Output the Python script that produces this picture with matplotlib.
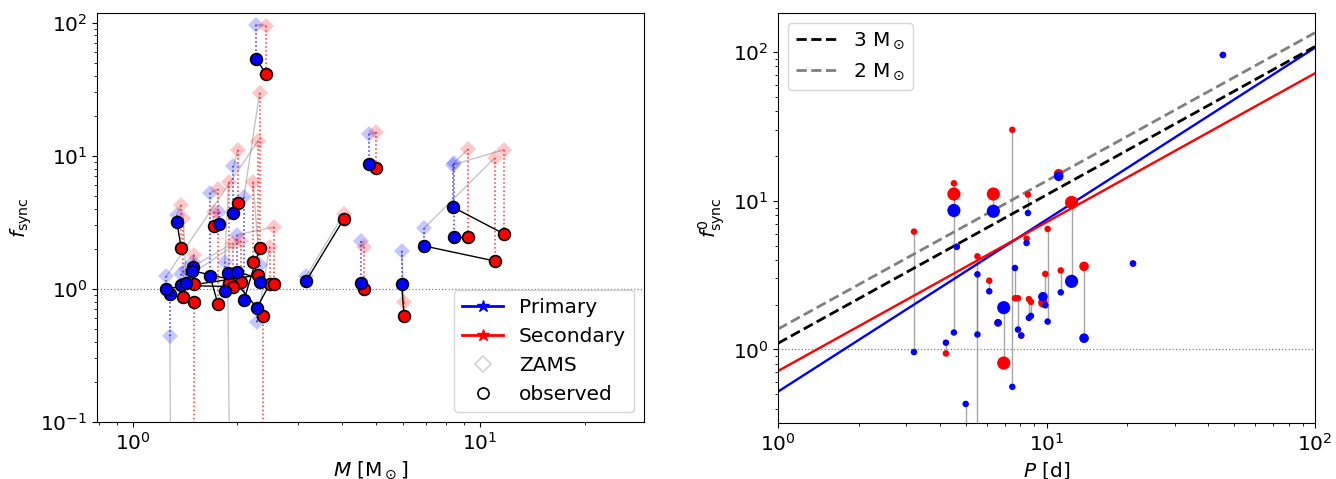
import numpy as np
import matplotlib
matplotlib.use('Agg')
import matplotlib.pyplot as plt
from matplotlib.lines import Line2D

plt.rcParams['font.size'] = 14.5

# ---------------- Left panel data: binaries (primary / secondary) ----------------
m1 = [3.16, 4.80, 4.54, 5.94, 6.90, 8.37, 8.40, 2.26, 1.34, 1.95, 1.77, 1.67,
      1.88, 1.28, 1.25, 2.09, 2.32, 2.28, 1.84, 2.00, 1.49, 1.48, 1.38, 1.42]
m2 = [4.05, 5.02, 4.64, 6.04, 11.0, 11.7, 9.22, 2.42, 1.38, 2.01, 1.71, 1.76,
      2.38, 1.50, 2.30, 2.32, 2.22, 2.48, 1.89, 2.56, 1.50, 2.05, 1.94, 1.40]
f1_obs = [1.15, 8.7, 1.11, 1.08, 2.10, 4.09, 2.45, 53.6, 3.2, 3.7, 3.08, 1.25,
          1.31, 0.91, 1.00, 0.82, 1.13, 0.72, 0.97, 1.35, 1.47, 1.37, 1.06, 1.10]
f2_obs = [3.34, 8.03, 1.00, 0.63, 1.62, 2.59, 2.45, 41.4, 2.02, 4.4, 2.98, 0.77,
          0.63, 0.80, 1.27, 2.01, 1.58, 1.09, 1.10, 1.09, 1.09, 1.13, 1.04, 0.875]
f1_zams = [1.24, 14.6, 2.27, 1.91, 2.86, 8.56, 8.8, 96.6, 3.6, 8.3, 3.8, 5.25,
           1.05, 0.44, 1.24, 4.9, 1.51, 0.56, 1.6, 2.55, 1.6, 1.3, 1.3, 1.4]
f2_zams = [3.66, 15.0, 2.06, 0.80, 9.6, 11.1, 11.2, 95.0, 4.28, 11.1, 3.8, 5.6,
           1e-30, 1e-30, 13.0, 29.6, 6.4, 2.08, 6.3, 2.91, 1.8, 2.3, 2.2, 3.4]

# ---------------- Right panel data ----------------
P_sys = [3.21, 4.22, 4.52, 4.52, 4.63, 5.00, 5.53, 5.53, 6.34, 6.12, 6.60, 6.93,
         7.46, 7.63, 7.83, 8.05, 8.53, 8.43, 8.60, 8.75, 9.70, 9.90, 10.1, 11.1,
         11.3, 12.4, 13.8, 21.0, 45.4]
f1_0 = [0.96, 1.11, 8.6, 1.3, 4.9, 0.43, 1.26, 3.2, 8.5, 2.46, 1.51, 1.91,
        0.56, 3.53, 1.36, 1.24, 8.27, 5.2, 1.63, 1.68, 2.26, 1.98, 1.54, 14.6,
        2.42, 2.87, 1.19, 3.78, 95.6]
f2_0 = [6.2, 0.94, 11.1, 13.1, 4.9, 1e-3, 4.23, 1e-3, 11.1, 2.9, 1.51, 0.81,
        30.0, 2.21, 2.21, 1.24, 11.0, 5.56, 2.18, 2.09, 2.06, 3.22, 6.46, 15.2,
        3.4, 9.74, 3.62, 3.78, 95.6]
size_sys = [22, 22, 90, 22, 22, 22, 22, 22, 90, 22, 30, 90,
            22, 22, 22, 22, 22, 22, 22, 22, 48, 22, 22, 48,
            22, 90, 48, 22, 22]

line_P = [1.0, 100.0]
fit_primary = [0.52, 107.0]
fit_secondary = [0.716, 72.0]
model_3msun = [1.10, 109.0]
model_2msun = [1.37, 135.0]

fig = plt.figure(figsize=(13.36, 4.79), dpi=100)
W, H = 1336.0, 479.0
ax1 = fig.add_axes([97 / W, 1 - 422 / H, (644 - 97) / W, (422 - 13) / H])
ax2 = fig.add_axes([778 / W, 1 - 423 / H, (1315 - 778) / W, (423 - 12.7) / H])

# ---------- left panel ----------
ax1.set_xscale('log')
ax1.set_yscale('log')
for i in range(len(m1)):
    ax1.plot([m1[i], m2[i]], [f1_zams[i], f2_zams[i]], color='gray', lw=1, alpha=0.45, zorder=1)
    ax1.plot([m1[i], m1[i]], [f1_zams[i], f1_obs[i]], color='blue', ls=':', lw=1.1, alpha=0.8, zorder=2)
    ax1.plot([m2[i], m2[i]], [f2_zams[i], f2_obs[i]], color='red', ls=':', lw=1.1, alpha=0.8, zorder=2)
    ax1.plot([m1[i], m2[i]], [f1_obs[i], f2_obs[i]], color='black', lw=1, zorder=4)
ax1.plot(m1, f1_zams, ls='none', marker='D', ms=8, color='blue', alpha=0.22, mew=0, zorder=3)
ax1.plot(m2, f2_zams, ls='none', marker='D', ms=8, color='red', alpha=0.22, mew=0, zorder=3)
ax1.plot(m2, f2_obs, ls='none', marker='o', ms=8.5, mfc='red', mec='black', mew=1.2, zorder=5)
ax1.plot(m1, f1_obs, ls='none', marker='o', ms=8.5, mfc='blue', mec='black', mew=1.2, zorder=5)
ax1.axhline(1.0, color='gray', ls=':', lw=0.9, zorder=0)
ax1.set_xlim(0.79, 29.6)
ax1.set_ylim(0.1, 118)
ax1.set_xlabel(r'$M$ [M$_\odot$]')
ax1.set_ylabel(r'$f_{\rm sync}$')
handles = [
    Line2D([], [], color='blue', lw=2, marker='*', ms=9, label='Primary'),
    Line2D([], [], color='red', lw=2, marker='*', ms=9, label='Secondary'),
    Line2D([], [], ls='none', marker='D', ms=8, mfc='white', mec='lightgray', mew=1.2, label='ZAMS'),
    Line2D([], [], ls='none', marker='o', ms=8, mfc='white', mec='black', mew=1.2, label='observed'),
]
ax1.legend(handles=handles, loc='lower right', fontsize=14.5)

# ---------- right panel ----------
ax2.set_xscale('log')
ax2.set_yscale('log')
for i in range(len(P_sys)):
    ax2.plot([P_sys[i], P_sys[i]], [f1_0[i], f2_0[i]], color='gray', lw=1, alpha=0.7, zorder=1)
ax2.scatter(P_sys, f2_0, s=size_sys, color='red', zorder=3, lw=0)
ax2.scatter(P_sys, f1_0, s=size_sys, color='blue', zorder=4, lw=0)
ax2.plot(line_P, fit_primary, color='blue', lw=1.7, zorder=2)
ax2.plot(line_P, fit_secondary, color='red', lw=1.7, zorder=2)
ax2.plot(line_P, model_3msun, color='black', ls='--', lw=2, zorder=2, label=r'3 M$_\odot$')
ax2.plot(line_P, model_2msun, color='gray', ls='--', lw=2, zorder=2, label=r'2 M$_\odot$')
ax2.axhline(1.0, color='gray', ls=':', lw=0.9, zorder=0)
ax2.set_xlim(1, 100)
ax2.set_ylim(0.32, 184)
ax2.set_xlabel(r'$P$ [d]')
ax2.set_ylabel(r'$f^0_{\rm sync}$')
ax2.legend(loc='upper left', fontsize=14.5)

fig.savefig('out.png', dpi=100)
